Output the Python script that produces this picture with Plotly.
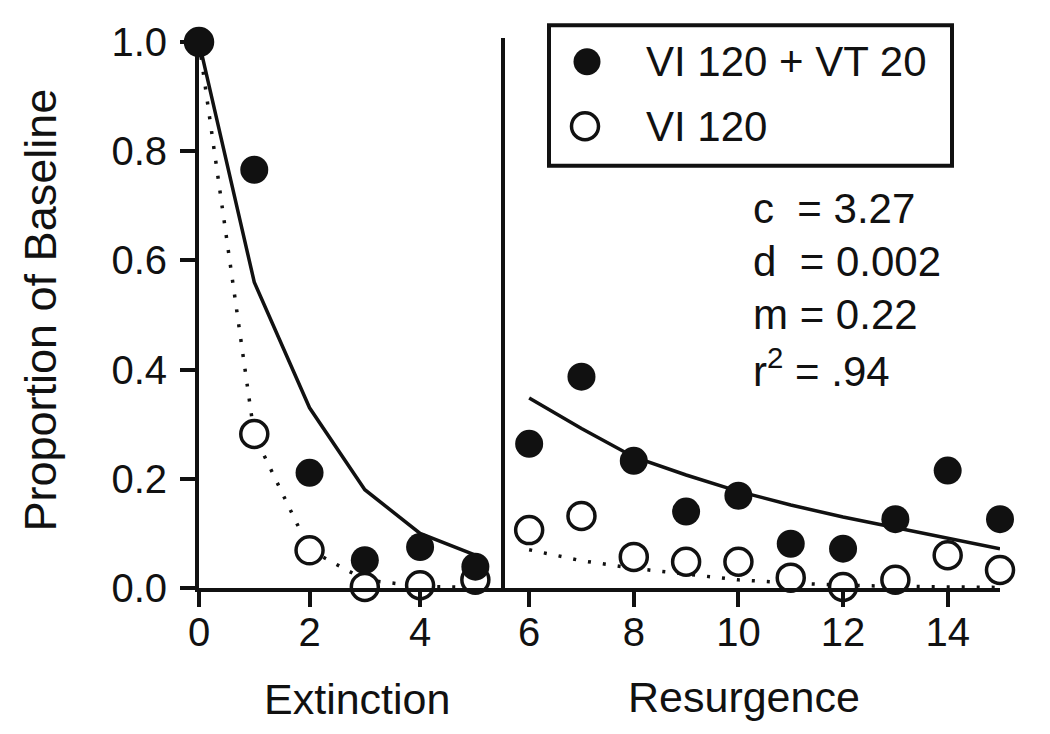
import plotly.graph_objects as go

# ---------------- data ----------------
ext_sessions = [0, 1, 2, 3, 4, 5]
res_sessions = [6, 7, 8, 9, 10, 11, 12, 13, 14, 15]

vt_ext = [1.0, 0.766, 0.211, 0.051, 0.075, 0.039]
vi_ext = [1.0, 0.282, 0.069, 0.002, 0.005, 0.015]
vt_res = [0.264, 0.387, 0.233, 0.140, 0.169, 0.081, 0.072, 0.126, 0.215, 0.126]
vi_res = [0.106, 0.132, 0.057, 0.048, 0.048, 0.019, 0.002, 0.015, 0.060, 0.033]

# model predictions
vt_fit_ext = [1.0, 0.56, 0.33, 0.18, 0.10, 0.06]
vi_fit_ext = [1.0, 0.28, 0.07, 0.015, 0.003, 0.001]
vt_fit_res = [0.348, 0.292, 0.240, 0.207, 0.177, 0.152, 0.130, 0.111, 0.092, 0.072]
vi_fit_res = [0.070, 0.050, 0.036, 0.025, 0.015, 0.009, 0.005, 0.003, 0.002, 0.001]

legend_labels = ["VI 120 + VT 20", "VI 120"]
param_lines = ["c\u00a0\u00a0= 3.27", "d\u00a0\u00a0= 0.002", "m = 0.22", "r<sup>2</sup> = .94"]
y_ticks = [0.0, 0.2, 0.4, 0.6, 0.8, 1.0]
x_ticks_ext = [0, 2, 4]
x_ticks_res = [6, 8, 10, 12, 14]
x_titles = ["Extinction", "Resurgence"]
y_title = "Proportion of Baseline"

# ---------------- styling ----------------
FONT = "Liberation Sans, Arial, sans-serif"
INK = "#111111"
W, H = 1050, 734
OFF = 8  # page body margin offset
# plot area in page pixels
PL, PR, PT, PB = 199, 1000, 37, 588
PW, PH = PR - PL, PB - PT
L, T = PL - OFF, PT - OFF
R, B = W - L - PW, H - T - PH


def px(xp):
    return (xp - PL) / PW


def py(yp):
    return (PB - yp) / PH


split = px(503)

fig = go.Figure()

solid = dict(color=INK, width=3.5)
dotted = dict(color=INK, width=3.5, dash="3px,12px")

# fitted lines
fig.add_trace(go.Scatter(x=ext_sessions, y=vi_fit_ext, mode="lines", line=dotted,
                         xaxis="x", yaxis="y", showlegend=False, hoverinfo="skip"))
fig.add_trace(go.Scatter(x=ext_sessions, y=vt_fit_ext, mode="lines", line=solid,
                         xaxis="x", yaxis="y", showlegend=False, hoverinfo="skip"))
fig.add_trace(go.Scatter(x=res_sessions, y=vi_fit_res, mode="lines", line=dotted,
                         xaxis="x2", yaxis="y", showlegend=False, hoverinfo="skip"))
fig.add_trace(go.Scatter(x=res_sessions, y=vt_fit_res, mode="lines", line=solid,
                         xaxis="x2", yaxis="y", showlegend=False, hoverinfo="skip"))

open_marker = dict(symbol="circle", size=27, color="white", line=dict(color=INK, width=3.5))
filled_marker = dict(symbol="circle", size=28, color=INK, line=dict(width=0))

# open circles (VI 120)
fig.add_trace(go.Scatter(x=ext_sessions, y=vi_ext, mode="markers", marker=open_marker,
                         name=legend_labels[1], xaxis="x", yaxis="y", cliponaxis=False,
                         showlegend=False))
fig.add_trace(go.Scatter(x=res_sessions, y=vi_res, mode="markers", marker=open_marker,
                         name=legend_labels[1], xaxis="x2", yaxis="y", cliponaxis=False,
                         showlegend=False))
# filled circles (VI 120 + VT 20)
fig.add_trace(go.Scatter(x=ext_sessions, y=vt_ext, mode="markers", marker=filled_marker,
                         name=legend_labels[0], xaxis="x", yaxis="y", cliponaxis=False,
                         showlegend=False))
fig.add_trace(go.Scatter(x=res_sessions, y=vt_res, mode="markers", marker=filled_marker,
                         name=legend_labels[0], xaxis="x2", yaxis="y", cliponaxis=False,
                         showlegend=False))

axis_common = dict(showline=True, linecolor=INK, linewidth=4, ticks="outside",
                   ticklen=15, tickwidth=4, tickcolor=INK, showgrid=False, zeroline=False,
                   tickfont=dict(family=FONT, size=40, color=INK))

fig.update_layout(
    width=W, height=H,
    margin=dict(l=L, r=R, t=T, b=B),
    paper_bgcolor="white", plot_bgcolor="white",
    showlegend=False,
    xaxis=dict(domain=[0, split], range=[0, 5.5], tickmode="array", tickvals=x_ticks_ext,
               anchor="y", ticklabelstandoff=-9, **axis_common),
    xaxis2=dict(domain=[split, 1], range=[5.5, 15], tickmode="array", tickvals=x_ticks_res,
                anchor="y", ticklabelstandoff=-9, **axis_common),
    yaxis=dict(domain=[0, 1], range=[0, 1.0], tickmode="array", tickvals=y_ticks,
               tickformat=".1f", anchor="x", ticklabelstandoff=5, **axis_common),
)

shapes = []
# divider between phases
shapes.append(dict(type="line", xref="paper", yref="paper", x0=split, x1=split,
                   y0=py(592), y1=py(33), line=dict(color=INK, width=4)))
# legend box
shapes.append(dict(type="rect", xref="paper", yref="paper", x0=px(549), x1=px(952),
                   y0=py(162), y1=py(20), line=dict(color=INK, width=4),
                   fillcolor="rgba(0,0,0,0)"))
# legend symbols
shapes.append(dict(type="circle", xref="paper", yref="paper", xsizemode="pixel",
                   ysizemode="pixel", xanchor=px(587), yanchor=py(57),
                   x0=-13.5, x1=13.5, y0=-13.5, y1=13.5, fillcolor=INK,
                   line=dict(width=0)))
shapes.append(dict(type="circle", xref="paper", yref="paper", xsizemode="pixel",
                   ysizemode="pixel", xanchor=px(585), yanchor=py(122),
                   x0=-13.5, x1=13.5, y0=-13.5, y1=13.5, fillcolor="white",
                   line=dict(color=INK, width=3.5)))
fig.update_layout(shapes=shapes)

ann = []
font_big = dict(family=FONT, size=42, color=INK)
font_title = dict(family=FONT, size=43, color=INK)
for lab, yc in zip(legend_labels, [57, 122]):
    ann.append(dict(text=lab, xref="paper", yref="paper", x=px(644), y=py(yc),
                    xanchor="left", yanchor="middle", showarrow=False, font=font_big))
for lab, yc in zip(param_lines, [205, 259, 312, 366]):
    ann.append(dict(text=lab, xref="paper", yref="paper", x=px(751), y=py(yc),
                    xanchor="left", yanchor="middle", showarrow=False, font=font_big))
ann.append(dict(text=x_titles[0], xref="paper", yref="paper", x=px(357), y=py(700),
                xanchor="center", yanchor="middle", showarrow=False, font=font_title))
ann.append(dict(text=x_titles[1], xref="paper", yref="paper", x=px(744), y=py(698),
                xanchor="center", yanchor="middle", showarrow=False, font=font_title))
ann.append(dict(text=y_title, xref="paper", yref="paper", x=px(41), y=py(308),
                xanchor="center", yanchor="middle", textangle=-90, showarrow=False,
                font=dict(family=FONT, size=45, color=INK)))
fig.update_layout(annotations=ann)

fig.write_html("out.html")
